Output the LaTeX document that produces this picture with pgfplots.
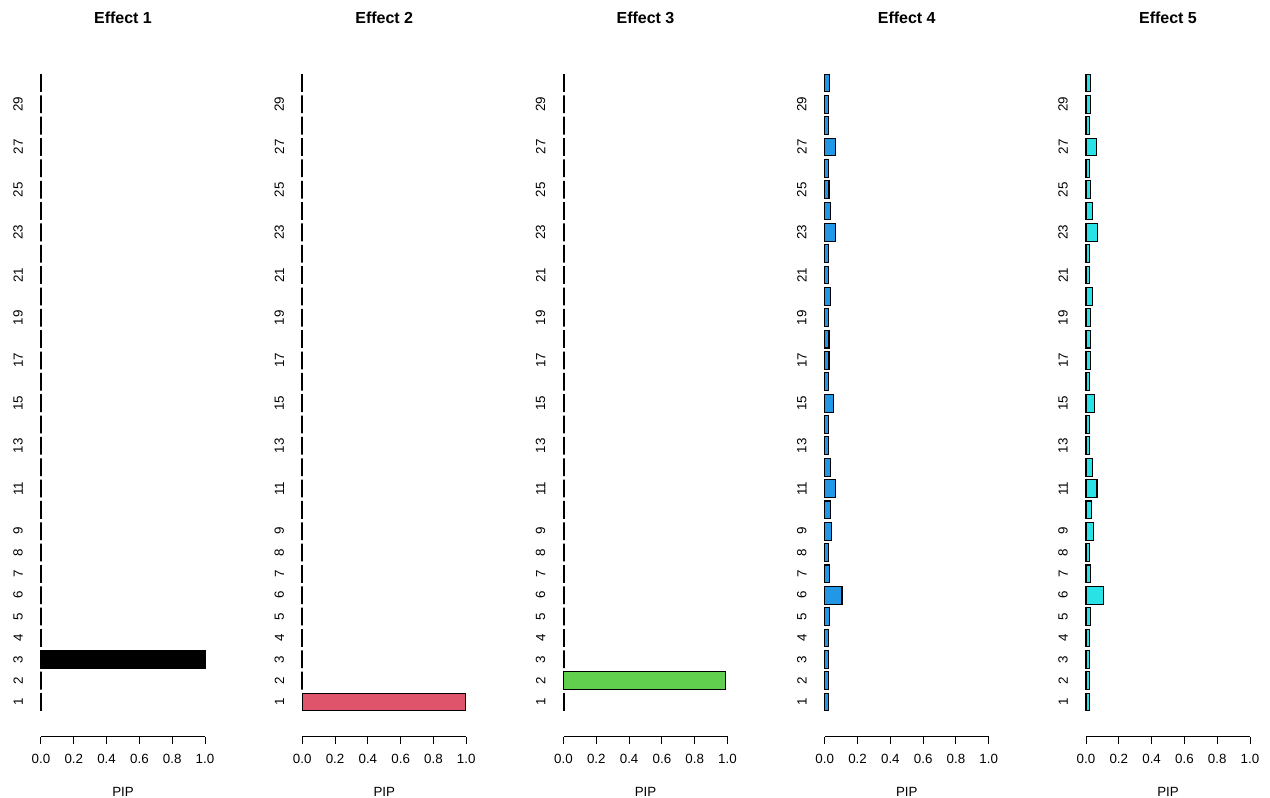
\documentclass[border=0pt]{standalone}
\usepackage{fontspec}
\setmainfont{Liberation Sans}
\usepackage{pgfplots}
\pgfplotsset{compat=1.18}
\definecolor{c1}{HTML}{000000}
\definecolor{c2}{HTML}{DF536B}
\definecolor{c3}{HTML}{61D04F}
\definecolor{c4}{HTML}{2297E6}
\definecolor{c5}{HTML}{28E2E5}
\pgfplotsset{panel/.style={
  scale only axis, width=123pt, height=516.3pt,
  xmin=0, xmax=1, ymin=-0.64, ymax=31.61,
  clip=false,
  axis x line*=bottom, axis y line*=left,
  y axis line style={draw=none},
  x axis line style={line width=0.75pt, -},
  xtick={0,0.2,0.4,0.6,0.8,1},
  xticklabels={0.0,0.2,0.4,0.6,0.8,1.0},
  ytick={1,2,3,4,5,6,7,8,9,11,13,15,17,19,21,23,25,27,29},
  yticklabels={1,2,3,4,5,6,7,8,9,11,13,15,17,19,21,23,25,27,29},
  tick align=outside,
  major tick length=5.5pt,
  xtick style={line width=0.75pt, black},
  ytick style={draw=none},
  xticklabel style={anchor=north, inner sep=0pt, font=\fontsize{10}{12}\selectfont},
  xticklabel shift=7.4pt,
  yticklabel style={rotate=90, anchor=south, inner sep=0pt, font=\fontsize{10}{12}\selectfont},
  yticklabel shift=7.9pt,
  xlabel={PIP},
  xlabel style={at={(axis description cs:0.5,0)}, anchor=center, yshift=-41.2pt, font=\fontsize{10}{12}\selectfont},
  title style={at={(axis description cs:0.5,1)}, anchor=center, yshift=17.4pt, font=\bfseries\fontsize{12}{14}\selectfont},
  every axis plot/.append style={xbar, bar width=0.8333, bar shift=0pt, draw=black, line width=0.8pt},
}}
\begin{document}
\begin{tikzpicture}
\useasboundingbox (0,0) rectangle (952.5pt,598.5pt);
% Panel 1
\begin{axis}[panel, at={(30.75pt,45.75pt)}, anchor=south west, title={Effect 1}]
\addplot[fill=c1, line width=1.5pt] coordinates {(0,1) (0,2) (0,4) (0,5) (0,6) (0,7) (0,8) (0,9) (0,10) (0,11) (0,12) (0,13) (0,14) (0,15) (0,16) (0,17) (0,18) (0,19) (0,20) (0,21) (0,22) (0,23) (0,24) (0,25) (0,26) (0,27) (0,28) (0,29) (0,30)};
\addplot[fill=c1] coordinates {(1.0,3)};
\end{axis}
% Panel 2
\begin{axis}[panel, at={(226.69pt,45.75pt)}, anchor=south west, title={Effect 2}]
\addplot[fill=c2, line width=1.5pt] coordinates {(0,2) (0,3) (0,4) (0,5) (0,6) (0,7) (0,8) (0,9) (0,10) (0,11) (0,12) (0,13) (0,14) (0,15) (0,16) (0,17) (0,18) (0,19) (0,20) (0,21) (0,22) (0,23) (0,24) (0,25) (0,26) (0,27) (0,28) (0,29) (0,30)};
\addplot[fill=c2] coordinates {(0.995,1)};
\end{axis}
% Panel 3
\begin{axis}[panel, at={(422.63pt,45.75pt)}, anchor=south west, title={Effect 3}]
\addplot[fill=c3, line width=1.5pt] coordinates {(0,1) (0,3) (0,4) (0,5) (0,6) (0,7) (0,8) (0,9) (0,10) (0,11) (0,12) (0,13) (0,14) (0,15) (0,16) (0,17) (0,18) (0,19) (0,20) (0,21) (0,22) (0,23) (0,24) (0,25) (0,26) (0,27) (0,28) (0,29) (0,30)};
\addplot[fill=c3] coordinates {(0.99,2)};
\end{axis}
% Panel 4
\begin{axis}[panel, at={(618.56pt,45.75pt)}, anchor=south west, title={Effect 4}]
\addplot[fill=c4] coordinates {(0.022,1) (0.022,2) (0.022,3) (0.022,4) (0.028,5) (0.105,6) (0.028,7) (0.020,8) (0.043,9) (0.033,10) (0.065,11) (0.035,12) (0.022,13) (0.022,14) (0.051,15) (0.022,16) (0.026,17) (0.026,18) (0.020,19) (0.035,20) (0.020,21) (0.020,22) (0.067,23) (0.035,24) (0.026,25) (0.022,26) (0.063,27) (0.020,28) (0.022,29) (0.028,30)};
\end{axis}
% Panel 5
\begin{axis}[panel, at={(814.5pt,45.75pt)}, anchor=south west, title={Effect 5}]
\addplot[fill=c5] coordinates {(0.024,1) (0.024,2) (0.024,3) (0.024,4) (0.030,5) (0.105,6) (0.030,7) (0.024,8) (0.045,9) (0.035,10) (0.067,11) (0.037,12) (0.024,13) (0.024,14) (0.051,15) (0.024,16) (0.028,17) (0.028,18) (0.028,19) (0.037,20) (0.024,21) (0.024,22) (0.069,23) (0.037,24) (0.028,25) (0.024,26) (0.065,27) (0.024,28) (0.028,29) (0.030,30)};
\end{axis}
\end{tikzpicture}
\end{document}
